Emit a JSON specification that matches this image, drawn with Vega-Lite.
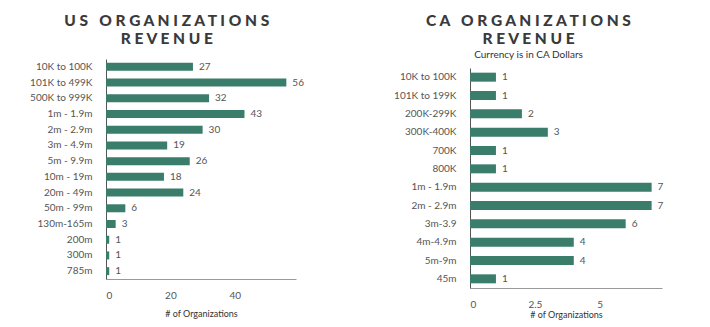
{
  "$schema": "https://vega.github.io/schema/vega-lite/v6.json",
  "background": "white",
  "padding": {"left": 29, "top": 13, "right": 5, "bottom": 5},
  "spacing": 89,
  "config": {
    "font": "Lato",
    "view": {"stroke": null},
    "title": {"font": "Lato", "fontSize": 15.5, "fontWeight": 900, "color": "#3a3a3a", "lineHeight": 18, "anchor": "middle", "frame": "bounds", "subtitleFont": "Lato", "subtitleFontSize": 10, "subtitleColor": "#333", "subtitlePadding": 3},
    "axis": {"labelFont": "Lato", "labelFontSize": 10, "labelColor": "#555", "titleFont": "Lato", "titleFontSize": 9, "titleFontWeight": "normal", "titleColor": "#333", "ticks": false, "grid": false}
  },
  "hconcat": [
    {
      "title": {"text": ["U S\u00a0\u00a0\u00a0O R G A N I Z A T I O N S", "R E V E N U E"], "offset": 12},
      "width": 190,
      "height": 220,
      "data": {"values": [
        {"range": "10K to 100K", "count": 27},
        {"range": "101K to 499K", "count": 56},
        {"range": "500K to 999K", "count": 32},
        {"range": "1m - 1.9m", "count": 43},
        {"range": "2m - 2.9m", "count": 30},
        {"range": "3m - 4.9m", "count": 19},
        {"range": "5m - 9.9m", "count": 26},
        {"range": "10m - 19m", "count": 18},
        {"range": "20m - 49m", "count": 24},
        {"range": "50m - 99m", "count": 6},
        {"range": "130m-165m", "count": 3},
        {"range": "200m", "count": 1},
        {"range": "300m", "count": 1},
        {"range": "785m", "count": 1}
      ]},
      "encoding": {
        "y": {"field": "range", "type": "nominal", "sort": null, "axis": {"title": null, "domainColor": "#555", "labelPadding": 14}},
        "x": {"field": "count", "type": "quantitative", "scale": {"domain": [0, 59], "nice": false}, "axis": {"title": "# of Organizations", "values": [0, 20, 40], "domainColor": "#999", "labelPadding": 11, "titlePadding": 9}}
      },
      "layer": [
        {"mark": {"type": "bar", "color": "#3a7d6b", "size": 8}},
        {"mark": {"type": "text", "align": "left", "dx": 6, "fontSize": 10, "color": "#555", "font": "Lato"}, "encoding": {"text": {"field": "count"}}}
      ]
    },
    {
      "title": {"text": ["C A\u00a0\u00a0\u00a0O R G A N I Z A T I O N S", "R E V E N U E"], "subtitle": "Currency is in CA Dollars", "offset": -1},
      "width": 192,
      "height": 229,
      "data": {"values": [
        {"range": "10K to 100K", "count": 1},
        {"range": "101K to 199K", "count": 1},
        {"range": "200K-299K", "count": 2},
        {"range": "300K-400K", "count": 3},
        {"range": "700K", "count": 1},
        {"range": "800K", "count": 1},
        {"range": "1m - 1.9m", "count": 7},
        {"range": "2m - 2.9m", "count": 7},
        {"range": "3m-3.9", "count": 6},
        {"range": "4m-4.9m", "count": 4},
        {"range": "5m-9m", "count": 4},
        {"range": "45m", "count": 1}
      ]},
      "encoding": {
        "y": {"field": "range", "type": "nominal", "sort": null, "scale": {"range": [9, 229]}, "axis": {"title": null, "domainColor": "#555", "labelPadding": 14}},
        "x": {"field": "count", "type": "quantitative", "scale": {"domain": [0, 7.4], "nice": false}, "axis": {"title": "# of Organizations", "values": [0, 2.5, 5], "format": ".1~f", "domainColor": "#999", "labelPadding": 11, "titlePadding": 1}}
      },
      "layer": [
        {"mark": {"type": "bar", "color": "#3a7d6b", "size": 9}},
        {"mark": {"type": "text", "align": "left", "dx": 6, "fontSize": 10, "color": "#555", "font": "Lato"}, "encoding": {"text": {"field": "count"}}}
      ]
    }
  ]
}
